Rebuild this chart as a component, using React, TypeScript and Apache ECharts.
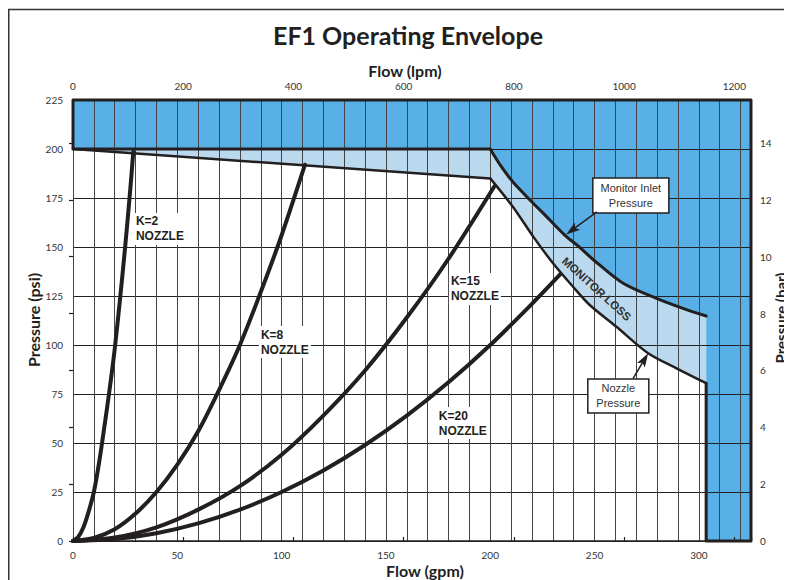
import React, { useEffect, useRef } from "react";
import * as echarts from "echarts";

// ---- axis scales ----
const GPM_MAX = 325;
const LPM_PER_GPM = 3.78541;
const PSI_MAX = 225;
const PSI_PER_BAR = 14.5038;

// ---- envelope boundary (gpm, psi) ----
const monitorInlet: number[][] = [
  [200, 200], [205, 191.5], [211, 183], [220.6, 172.3], [227, 165.5], [235.7, 156.1],
  [242.9, 149.8], [250, 143], [263.7, 131.5], [279.7, 123.8], [292.4, 118.7], [303.5, 114.8],
];
const nozzlePressure: number[][] = [
  [200, 185], [211, 170.3], [220.6, 155.3], [230.1, 141.7], [239.7, 129.7],
  [247.7, 120.4], [260.5, 109.3], [275.7, 95.8], [289.3, 88.1], [303.5, 80.5],
];
const nozzleTopLine: number[][] = [[0, 200], [200, 185]];
const envelopeOuter: number[][] = [
  [303.5, 80.5], [303.5, 0], [325, 0], [325, 225], [0, 225], [0, 200], [200, 200],
];

// ---- nozzle curves (gpm, psi) ----
const k2: number[][] = [
  [0, 0], [2.5, 2], [5, 7], [7.5, 15], [10, 25], [12.5, 40], [15, 58], [17.5, 77],
  [20, 98], [22.5, 123], [25, 150], [27.5, 180], [28.9, 198.6],
];
const k8: number[][] = [
  [0, 0], [10, 1.6], [20, 6], [30, 14], [40, 25], [50, 39], [60, 56], [70, 77],
  [80, 100], [90, 127], [100, 156], [111.2, 192],
];
const k15: number[][] = [
  [0, 0], [20, 1.8], [40, 7], [60, 16], [80, 28], [100, 44], [120, 64], [140, 87],
  [160, 114], [180, 144], [202, 181],
];
const k20: number[][] = [
  [0, 0], [20, 1], [40, 4], [60, 9], [80, 16], [100, 25], [120, 36], [140, 49],
  [160, 64], [180, 81], [200, 100], [220, 121], [233.5, 136],
];

// ---- labels ----
const kLabels = [
  { text: "K=2\nNOZZLE", at: [29.2, 159.2] },
  { text: "K=8\nNOZZLE", at: [89.1, 101.5] },
  { text: "K=15\nNOZZLE", at: [180.2, 128.6] },
  { text: "K=20\nNOZZLE", at: [174.4, 60.2] },
];
const boxes = [
  { text: "Monitor Inlet\nPressure", at: [267.4, 176.3], w: 76, h: 35, tail: [251.1, 167.9], tip: [236.4, 156.4] },
  { text: "Nozzle\nPressure", at: [261.4, 74], w: 61, h: 34, tail: [268.5, 83], tip: [275.7, 95.8] },
];
const lossLabel = { text: "MONITOR LOSS", at: [251, 128.6] };

const INK = "#231F20";
const DARK = "#58B0E6";
const LIGHT = "#BBD9EE";
const NUM_FONT = "Lato";
const ARIAL = "'Liberation Sans', Arial, sans-serif";

const darkPoly = [[0, 225], [325, 225], [325, 0], [303.5, 0], ...monitorInlet.slice().reverse(), [0, 200]];
const lightPoly = [[0, 200], ...monitorInlet, ...nozzlePressure.slice().reverse()];

function polySeries(points: number[][], fill: string) {
  return {
    type: "custom",
    xAxisIndex: 0,
    yAxisIndex: 0,
    z: 1,
    silent: true,
    data: [[0, 0]],
    renderItem: (_p: any, api: any) => ({
      type: "polygon",
      shape: { points: points.map((p) => api.coord(p)) },
      style: { fill, stroke: null },
    }),
  };
}

function lineSeries(data: number[][], width: number, smooth: number | boolean) {
  return {
    type: "line",
    xAxisIndex: 0,
    yAxisIndex: 0,
    data,
    z: 5,
    smooth,
    symbol: "none",
    clip: false,
    silent: true,
    lineStyle: { color: INK, width, cap: "round", join: "round" },
  };
}

const labelStyle = { fontSize: 10, color: "#333", fontFamily: NUM_FONT };
const plain = (v: number) => String(Math.round(v));

export default function App() {
  const ref = useRef<HTMLDivElement>(null);
  useEffect(() => {
    const chart = echarts.init(ref.current!, null, { renderer: "svg" });
    chart.setOption({
      animation: false,
      grid: { left: 65, top: 92, width: 678, height: 441, containLabel: false, outerBoundsMode: "none" },
      xAxis: [
        {
          type: "value", position: "bottom", min: 0, max: GPM_MAX, interval: 50, z: 3,
          axisLine: { show: true, onZero: false, lineStyle: { color: INK, width: 1.5 } },
          axisTick: { show: false },
          axisLabel: { ...labelStyle, margin: 9, showMaxLabel: false, formatter: plain },
          splitLine: { show: false },
        },
        {
          type: "value", position: "top", min: 0, max: GPM_MAX * LPM_PER_GPM, interval: 200, z: 3,
          axisLine: { show: false },
          axisTick: { show: false },
          axisLabel: { ...labelStyle, margin: 9, showMaxLabel: false, formatter: plain },
          splitLine: { show: false },
        },
        {
          type: "value", position: "bottom", min: 0, max: GPM_MAX, interval: 10, z: 3,
          axisLine: { show: false }, axisTick: { show: false }, axisLabel: { show: false },
          splitLine: { show: true, lineStyle: { color: "#444", width: 1 } },
        },
        {
          type: "value", position: "bottom", min: 0, max: GPM_MAX * LPM_PER_GPM, interval: 200, z: 3,
          axisLine: { show: false }, axisLabel: { show: false },
          axisTick: { show: true, inside: true, length: 4, lineStyle: { color: INK, width: 1.2 } },
          splitLine: { show: false },
        },
      ],
      yAxis: [
        {
          type: "value", position: "left", min: 0, max: PSI_MAX, interval: 25, z: 3,
          axisLine: { show: false }, axisTick: { show: false },
          axisLabel: { ...labelStyle, margin: 10, formatter: plain },
          splitLine: { show: true, lineStyle: { color: "#222", width: 1 } },
        },
        {
          type: "value", position: "right", min: 0, max: PSI_MAX / PSI_PER_BAR, interval: 2, z: 3,
          axisLine: { show: false },
          axisTick: { show: true, inside: true, length: 4, lineStyle: { color: INK, width: 1.2 } },
          axisLabel: { ...labelStyle, margin: 9, showMaxLabel: false, formatter: plain },
          splitLine: { show: false },
        },
      ],
      series: [
        polySeries(darkPoly, DARK),
        polySeries(lightPoly, LIGHT),
        lineSeries(envelopeOuter, 3, false),
        lineSeries(monitorInlet, 3, 0.3),
        lineSeries(nozzleTopLine, 2.5, false),
        lineSeries(nozzlePressure, 2.5, 0.3),
        lineSeries(k2, 4, 0.3),
        lineSeries(k8, 4, 0.3),
        lineSeries(k15, 4, 0.3),
        lineSeries(k20, 4, 0.3),
      ],
    });

    const px = (p: number[]) => chart.convertToPixel({ xAxisIndex: 0, yAxisIndex: 0 }, p) as number[];
    const els: any[] = [];
    // frame
    els.push({ type: "rect", shape: { x: 0.75, y: 1.5, width: 900, height: 900 }, style: { fill: null, stroke: "#333", lineWidth: 1.5 }, z: 30, silent: true });
    // titles
    const heading = (text: string, x: number, y: number, size: number, rotation = 0) => ({
      type: "text", x, y, rotation, z: 30, silent: true,
      style: { text, fontSize: size, fontWeight: "bold", fontFamily: NUM_FONT, fill: INK, align: "center", verticalAlign: "middle" },
    });
    els.push(heading("EF1 Operating Envelope", 400, 27, 25));
    els.push(heading("Flow (lpm)", 397, 62, 16));
    els.push(heading("Flow (gpm)", 417, 562, 16));
    els.push(heading("Pressure (psi)", 25, 312, 16, Math.PI / 2));
    els.push(heading("Pressure (bar)", 773, 310, 15, Math.PI / 2));
    // K labels
    kLabels.forEach((l) => {
      const [x, y] = px(l.at);
      els.push({
        type: "text", x, y, z: 20, silent: true,
        style: {
          text: l.text, fontSize: 12, fontWeight: "bold", fontFamily: ARIAL, fill: INK,
          align: "left", verticalAlign: "middle", lineHeight: 15, backgroundColor: "#fff", padding: [1, 2],
        },
      });
    });
    // boxes + arrows
    boxes.forEach((b) => {
      const [cx, cy] = px(b.at);
      els.push({ type: "rect", shape: { x: cx - b.w / 2, y: cy - b.h / 2, width: b.w, height: b.h }, style: { fill: "#fff", stroke: INK, lineWidth: 1.5 }, z: 20, silent: true });
      els.push({
        type: "text", x: cx, y: cy, z: 21, silent: true,
        style: { text: b.text, fontSize: 11, fontFamily: ARIAL, fill: "#333", align: "center", verticalAlign: "middle", lineHeight: 15 },
      });
      const [x1, y1] = px(b.tail);
      const [x2, y2] = px(b.tip);
      const dx = x2 - x1, dy = y2 - y1, len = Math.hypot(dx, dy);
      const ux = dx / len, uy = dy / len;
      const hl = 14, hw = 4.5;
      const bx = x2 - ux * hl, by = y2 - uy * hl;
      els.push({ type: "line", shape: { x1, y1, x2: bx + ux * 3, y2: by + uy * 3 }, style: { stroke: INK, lineWidth: 1.5 }, z: 20, silent: true });
      els.push({
        type: "polygon", z: 20, silent: true,
        shape: { points: [[x2, y2], [bx - uy * hw, by + ux * hw], [bx + ux * 3, by + uy * 3], [bx + uy * hw, by - ux * hw]] },
        style: { fill: INK },
      });
    });
    // monitor loss
    {
      const [x, y] = px(lossLabel.at);
      els.push({
        type: "text", x, y, rotation: -0.735, z: 20, silent: true,
        style: { text: lossLabel.text, fontSize: 11.5, fontWeight: "bold", fontFamily: ARIAL, fill: "#333", align: "center", verticalAlign: "middle" },
      });
    }
    chart.setOption({ graphic: { elements: els } });
    return () => chart.dispose();
  }, []);
  return <div ref={ref} style={{ width: 784, height: 572 }} />;
}
